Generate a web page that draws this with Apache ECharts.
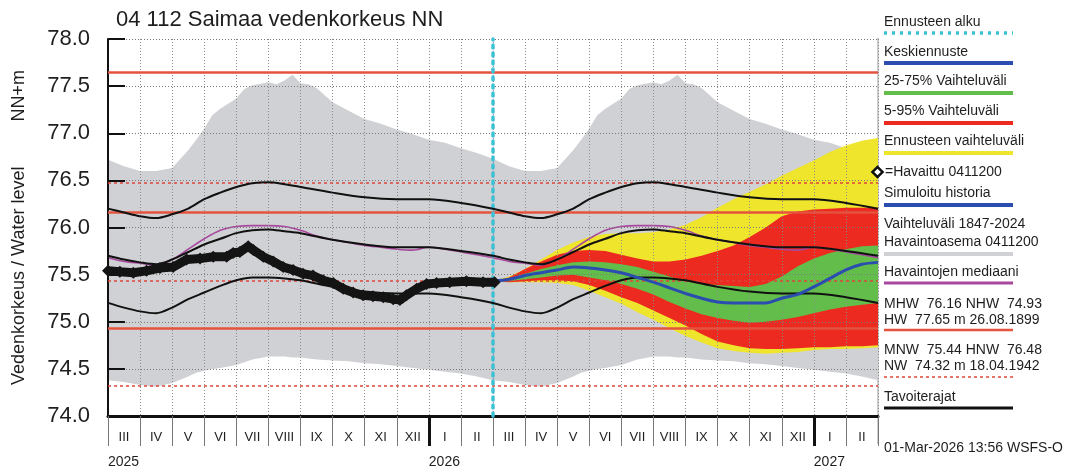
<!DOCTYPE html>
<html>
<head>
<meta charset="utf-8">
<script src="https://cdn.jsdelivr.net/npm/echarts@6/dist/echarts.min.js"></script>
<style>
  html, body { margin: 0; padding: 0; background: #fff; }
  #chart { width: 1067px; height: 470px; }
</style>
</head>
<body>
<div id="chart"></div>
<script>
// x = months counted from 1 Mar 2025 (0 .. 24)
const monthLabels = ['III', 'IV', 'V', 'VI', 'VII', 'VIII', 'IX', 'X', 'XI', 'XII', 'I', 'II',
  'III', 'IV', 'V', 'VI', 'VII', 'VIII', 'IX', 'X', 'XI', 'XII', 'I', 'II']
const yearTicks = [0, 10, 22]
const yearLabels = ['2025', '2026', '2027']

// historical range 1847-2024 (one year, repeated)
const climMonths = [0, 0.5, 1, 1.5, 2, 2.5, 2.75, 3, 3.25, 3.5, 4, 4.25, 4.5, 5, 5.25, 5.5, 5.75, 6, 6.25, 6.5, 7, 7.5, 8, 8.5, 9, 9.5, 10, 10.5, 11, 11.5, 12]
const histHigh = [76.72, 76.65, 76.60, 76.60, 76.63, 76.82, 76.93, 77.05, 77.19, 77.26, 77.37, 77.47, 77.51, 77.54, 77.52, 77.56, 77.62, 77.53, 77.52, 77.48, 77.33, 77.24, 77.15, 77.10, 77.04, 76.99, 76.93, 76.90, 76.84, 76.79, 76.73]
const histLow = [74.38, 74.36, 74.33, 74.31, 74.35, 74.42, 74.46, 74.48, 74.50, 74.51, 74.54, 74.57, 74.60, 74.63, 74.63, 74.63, 74.62, 74.62, 74.61, 74.60, 74.59, 74.58, 74.56, 74.55, 74.53, 74.51, 74.49, 74.47, 74.45, 74.42, 74.38]

// median of observations (one year, repeated)
const medMonths = [0, 0.5, 1, 1.5, 2, 2.5, 3, 3.5, 4, 4.5, 5, 5.5, 6, 6.5, 7, 7.5, 8, 8.5, 9, 9.5, 10, 10.5, 11, 11.5, 12]
const obsMedian = [75.68, 75.64, 75.62, 75.60, 75.66, 75.77, 75.88, 75.97, 76.01, 76.02, 76.02, 76.01, 75.97, 75.91, 75.87, 75.84, 75.81, 75.79, 75.77, 75.76, 75.79, 75.77, 75.74, 75.71, 75.68]

// target limits (one year, repeated)
const targetMonths = [0, 0.5, 1, 1.5, 2, 2.5, 3, 3.5, 4, 4.5, 5, 5.5, 6, 7, 8, 9, 10, 11, 12]
const targetHigh = [76.20, 76.16, 76.12, 76.10, 76.14, 76.20, 76.30, 76.37, 76.43, 76.47, 76.48, 76.46, 76.43, 76.37, 76.32, 76.30, 76.30, 76.26, 76.20]
const targetMid = [75.70, 75.66, 75.63, 75.61, 75.66, 75.74, 75.82, 75.88, 75.94, 75.97, 75.98, 75.96, 75.94, 75.87, 75.82, 75.79, 75.79, 75.75, 75.70]
const targetLow = [75.20, 75.15, 75.11, 75.09, 75.15, 75.24, 75.31, 75.38, 75.44, 75.47, 75.47, 75.46, 75.44, 75.37, 75.32, 75.30, 75.30, 75.26, 75.20]

// observed 0411200
const obsMonths = [0, 0.37, 0.79, 1.2, 1.62, 2.03, 2.45, 2.87, 3.28, 3.7, 3.9, 4.11, 4.37, 4.53, 4.84, 5.15, 5.46, 5.77, 6.08, 6.39, 6.71, 7.02, 7.33, 7.64, 7.95, 8.26, 8.58, 8.89, 9.1, 9.3, 9.62, 9.93, 10.24, 10.65, 11.17, 11.69, 12.05]
const obsLevel = [75.54, 75.53, 75.52, 75.54, 75.57, 75.58, 75.66, 75.67, 75.69, 75.69, 75.73, 75.74, 75.80, 75.76, 75.69, 75.64, 75.58, 75.55, 75.51, 75.49, 75.44, 75.41, 75.35, 75.31, 75.28, 75.27, 75.26, 75.24, 75.23, 75.28, 75.35, 75.40, 75.41, 75.42, 75.43, 75.42, 75.42]

// forecast from 1 Mar 2026
const fcMonths = [12, 12.5, 13, 13.5, 14, 14.5, 15, 15.5, 16, 16.5, 17, 17.5, 18, 18.5, 19, 19.5, 20, 20.5, 21, 21.5, 22, 22.5, 23, 23.5, 24]
const fcMax = [75.43, 75.48, 75.56, 75.66, 75.76, 75.84, 75.90, 75.93, 75.94, 75.94, 75.95, 75.98, 76.03, 76.11, 76.21, 76.30, 76.38, 76.46, 76.55, 76.63, 76.71, 76.80, 76.87, 76.92, 76.95]
const fcMin = [75.43, 75.42, 75.42, 75.42, 75.41, 75.39, 75.33, 75.26, 75.19, 75.10, 75.02, 74.93, 74.85, 74.78, 74.72, 74.69, 74.67, 74.66, 74.67, 74.68, 74.70, 74.71, 74.71, 74.72, 74.73]
const fcP95 = [75.43, 75.47, 75.56, 75.64, 75.71, 75.75, 75.76, 75.75, 75.71, 75.67, 75.64, 75.64, 75.66, 75.70, 75.75, 75.81, 75.90, 76.00, 76.12, 76.17, 76.19, 76.20, 76.21, 76.21, 76.21]
const fcP5 = [75.43, 75.42, 75.43, 75.44, 75.44, 75.43, 75.39, 75.33, 75.26, 75.20, 75.12, 75.04, 74.96, 74.87, 74.79, 74.75, 74.72, 74.71, 74.71, 74.72, 74.73, 74.73, 74.74, 74.74, 74.75]
const fcP75 = [75.43, 75.46, 75.51, 75.56, 75.60, 75.63, 75.64, 75.63, 75.61, 75.58, 75.53, 75.48, 75.43, 75.40, 75.39, 75.38, 75.37, 75.40, 75.48, 75.59, 75.67, 75.73, 75.77, 75.80, 75.81]
const fcP25 = [75.43, 75.43, 75.45, 75.47, 75.49, 75.50, 75.47, 75.44, 75.40, 75.35, 75.29, 75.21, 75.14, 75.08, 75.04, 75.01, 74.99, 75.00, 75.02, 75.05, 75.09, 75.13, 75.16, 75.18, 75.20]
const fcMean = [75.43, 75.45, 75.49, 75.52, 75.55, 75.58, 75.57, 75.55, 75.52, 75.47, 75.42, 75.36, 75.30, 75.25, 75.21, 75.20, 75.20, 75.20, 75.25, 75.29, 75.37, 75.46, 75.55, 75.61, 75.63]

// reference levels
const HW = 77.65, MHW = 76.16, NHW = 74.93
const HNW = 76.48, MNW = 75.44, NW = 74.32
const forecastStart = 12

const FONT = '"Liberation Sans", Arial, sans-serif'

function pairs (months, values) {
  return months.map((m, i) => [m, values[i]])
}
// same yearly curve drawn for both years
function twoYears (months, values) {
  const out = []
  for (let yr = 0; yr < 2; yr++) {
    months.forEach((m, i) => {
      if (yr === 1 && m === 0) return
      out.push([m + 12 * yr, values[i]])
    })
  }
  return out
}
// filled range between a lower and an upper curve
function band (upper, lower, color, z) {
  return {
    type: 'custom', silent: true, z: z,
    data: [upper[0]],
    renderItem: function (params, api) {
      const pts = upper.map(p => api.coord(p))
        .concat(lower.slice().reverse().map(p => api.coord(p)))
      return { type: 'polygon', shape: { points: pts }, style: { fill: color } }
    }
  }
}
function curve (data, color, width, z) {
  return { type: 'line', data: data, symbol: 'none', smooth: 0.3, z: z, silent: true,
    lineStyle: { color: color, width: width } }
}

const chart = echarts.init(document.getElementById('chart'))

function legendText (y, text, x) {
  return { type: 'text', x: x || 884, y: y, style: { text: text, font: '14px ' + FONT, fill: '#1e1e1e', verticalAlign: 'middle' } }
}
function legendLine (y, color, width, dash) {
  return { type: 'line', shape: { x1: 884, y1: y, x2: 1013, y2: y },
    style: { stroke: color, lineWidth: width, lineDash: dash || null } }
}

chart.setOption({
  animation: false,
  backgroundColor: '#fff',
  title: {
    text: '04 112 Saimaa vedenkorkeus NN',
    left: 111, top: 4,
    textStyle: { fontFamily: FONT, fontSize: 22, fontWeight: 'normal', color: '#1e1e1e' }
  },
  grid: { left: 108, right: 189, top: 39, bottom: 54 },
  xAxis: [
    {
      type: 'value', min: 0, max: 24, interval: 1, z: 2,
      axisLine: { show: false }, axisTick: { show: false }, axisLabel: { show: false },
      splitLine: { show: true, lineStyle: { color: '#8c8c8c', type: [1, 2], width: 1 } }
    },
    {
      type: 'category', data: monthLabels, position: 'bottom', boundaryGap: true, z: 3,
      axisLine: { show: true, lineStyle: { color: '#111', width: 3 } },
      axisTick: { show: true, interval: 0, length: 30, lineStyle: { color: '#777', width: 1 } },
      axisLabel: { interval: 0, margin: 15, fontFamily: FONT, fontSize: 13, color: '#1e1e1e' },
      splitLine: { show: false }
    },
    {
      type: 'value', min: 0, max: 24, position: 'bottom', z: 3,
      axisLine: { show: false },
      axisTick: { show: true, customValues: [yearTicks[1], yearTicks[2]], length: 30, lineStyle: { color: '#111', width: 3 } },
      axisLabel: {
        show: true, customValues: yearTicks, margin: 39, align: 'left',
        fontFamily: FONT, fontSize: 14, color: '#1e1e1e',
        formatter: v => yearLabels[yearTicks.indexOf(v)]
      },
      splitLine: { show: false }
    }
  ],
  yAxis: {
    type: 'value', min: 74, max: 78, interval: 0.5, z: 2,
    name: 'Vedenkorkeus / Water level         NN+m',
    nameLocation: 'middle', nameGap: 80, nameRotate: 90,
    nameTextStyle: { fontFamily: FONT, fontSize: 18, color: '#1e1e1e' },
    axisLine: { show: true, lineStyle: { color: '#111', width: 2 } },
    axisTick: { show: true, inside: true, length: 17, lineStyle: { color: '#111', width: 2 } },
    axisLabel: { margin: 18, fontFamily: FONT, fontSize: 22, color: '#1e1e1e', formatter: v => v.toFixed(1) },
    splitLine: { show: true, lineStyle: { color: '#7a7a7a', type: [1, 2], width: 1 } }
  },
  series: [
    band(twoYears(climMonths, histHigh), twoYears(climMonths, histLow), '#d0d1d4', 1),
    curve(twoYears(medMonths, obsMedian), '#a8489f', 1.6, 1),
    band(pairs(fcMonths, fcMax), pairs(fcMonths, fcMin), '#efe52c', 1),
    band(pairs(fcMonths, fcP95), pairs(fcMonths, fcP5), '#ec2a20', 1),
    band(pairs(fcMonths, fcP75), pairs(fcMonths, fcP25), '#62bd4a', 1),
    {
      type: 'line', data: [], silent: true, z: 4,
      markLine: {
        silent: true, symbol: 'none', label: { show: false },
        data: [
          { yAxis: HW, lineStyle: { color: '#e5533f', width: 2.5, type: 'solid' } },
          { yAxis: MHW, lineStyle: { color: '#e5533f', width: 2.5, type: 'solid' } },
          { yAxis: NHW, lineStyle: { color: '#e5533f', width: 2.5, type: 'solid' } },
          { yAxis: HNW, lineStyle: { color: '#e0443a', width: 1.5, type: [3, 3] } },
          { yAxis: MNW, lineStyle: { color: '#e0443a', width: 1.5, type: [3, 3] } },
          { yAxis: NW, lineStyle: { color: '#e0443a', width: 1.5, type: [3, 3] } }
        ]
      }
    },
    curve(twoYears(targetMonths, targetHigh), '#111', 2, 5),
    curve(twoYears(targetMonths, targetMid), '#111', 2, 5),
    curve(twoYears(targetMonths, targetLow), '#111', 2, 5),
    curve(pairs(fcMonths, fcMean), '#2b4db0', 3, 6),
    {
      type: 'line', data: pairs(obsMonths, obsLevel), z: 7, clip: false, silent: true,
      symbol: 'diamond', symbolSize: 12, showAllSymbol: true,
      itemStyle: { color: '#141414' },
      lineStyle: { color: '#141414', width: 9 }
    },
    {
      type: 'line', data: [], silent: true, z: 8,
      markLine: {
        silent: true, symbol: 'none', label: { show: false },
        data: [{ xAxis: forecastStart, lineStyle: { color: '#3dc1d7', width: 3.5, type: [3, 5], cap: 'round' } }]
      }
    }
  ],
  graphic: [
    { type: 'line', shape: { x1: 878, y1: 38, x2: 878, y2: 444 }, style: { stroke: '#9a9a9a', lineWidth: 1 } },
    legendText(22, 'Ennusteen alku'),
    legendLine(33, '#3dc1d7', 3.5, [3, 5]),
    legendText(52, 'Keskiennuste'),
    legendLine(63, '#2b4db0', 4),
    legendText(81, '25-75% Vaihteluväli'),
    legendLine(93, '#62bd4a', 4),
    legendText(111, '5-95% Vaihteluväli'),
    legendLine(123, '#ec2a20', 4),
    legendText(141, 'Ennusteen vaihteluväli'),
    legendLine(153, '#efe52c', 4),
    { type: 'rect', x: 877.5, y: 172, rotation: Math.PI / 4, z: 10,
      shape: { x: -3.6, y: -3.6, width: 7.2, height: 7.2 },
      style: { fill: '#fff', stroke: '#111', lineWidth: 2.5 } },
    legendText(172, '=Havaittu 0411200', 885),
    legendText(193, 'Simuloitu historia'),
    legendLine(205, '#2b4db0', 4),
    legendText(224, 'Vaihteluväli 1847-2024'),
    legendText(242, 'Havaintoasema 0411200'),
    legendLine(254, '#d0d1d4', 4),
    legendText(272, 'Havaintojen mediaani'),
    legendLine(283, '#a8489f', 3),
    legendText(304, 'MHW  76.16 NHW  74.93'),
    legendText(320, 'HW  77.65 m 26.08.1899'),
    legendLine(330, '#e5533f', 2.5),
    legendText(350, 'MNW  75.44 HNW  76.48'),
    legendText(366, 'NW  74.32 m 18.04.1942'),
    legendLine(377, '#e0443a', 1.5, [3, 3]),
    legendText(397, 'Tavoiterajat'),
    legendLine(408, '#111', 3),
    legendText(448, '01-Mar-2026 13:56 WSFS-O')
  ]
})
</script>
</body>
</html>
